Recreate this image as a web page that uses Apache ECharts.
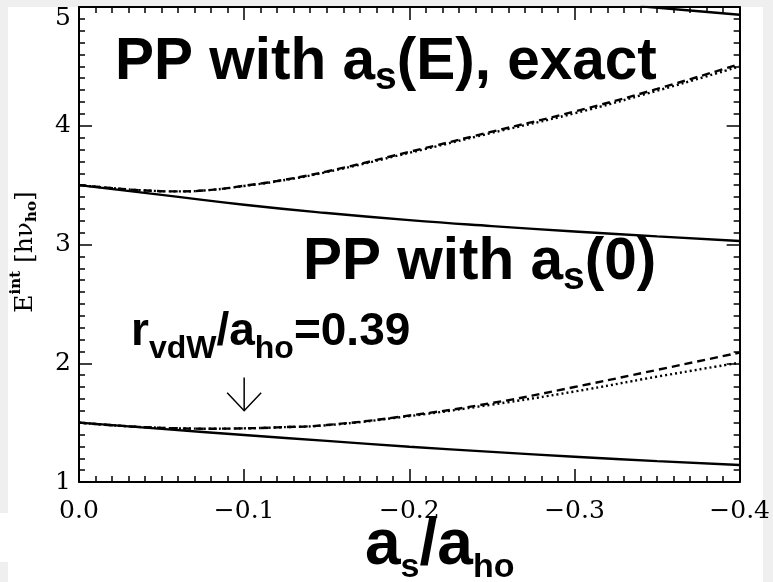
<!DOCTYPE html>
<html>
<head>
<meta charset="utf-8">
<script src="https://cdn.jsdelivr.net/npm/echarts@6/dist/echarts.min.js"></script>
<style>
  html, body { margin: 0; padding: 0; background: #fff; }
  #chart { width: 773px; height: 582px; }
</style>
</head>
<body>
<div id="chart"></div>
<script>
// x values (a_s / a_ho)
const xSolid = [0, -0.05, -0.1, -0.15, -0.2, -0.25, -0.3, -0.35, -0.4]
const xCurve = [0, -0.02, -0.04, -0.06, -0.08, -0.1, -0.12, -0.15, -0.2, -0.25, -0.3, -0.35, -0.4]
const xTop = [-0.34, -0.37, -0.4]

// PP with a_s(0) (solid)
const lowerSolid = [1.5, 1.447, 1.396, 1.346, 1.297, 1.254, 1.213, 1.176, 1.143]
const upperSolid = [3.5, 3.418, 3.335, 3.265, 3.205, 3.155, 3.11, 3.068, 3.03]
const topSolid = [5.005, 4.97, 4.935]

// PP with a_s(E) (dashed) and exact (dotted)
const lowerDashed = [1.5, 1.478, 1.462, 1.452, 1.449, 1.452, 1.46, 1.48, 1.56, 1.665, 1.8, 1.944, 2.09]
const lowerDotted = [1.5, 1.478, 1.462, 1.452, 1.449, 1.452, 1.46, 1.478, 1.555, 1.652, 1.762, 1.887, 2.005]
const upperDashed = [3.5, 3.475, 3.455, 3.447, 3.46, 3.495, 3.535, 3.615, 3.78, 3.95, 4.12, 4.31, 4.52]
const upperDotted = [3.5, 3.475, 3.455, 3.447, 3.46, 3.493, 3.532, 3.61, 3.772, 3.94, 4.105, 4.295, 4.5]

const xTicks = [0, -0.1, -0.2, -0.3, -0.4]
const yTicks = [1, 2, 3, 4, 5]

// arrow marking r_vdW/a_ho = 0.39
const arrowX = -0.1
const arrowFrom = 1.88
const arrowTo = 1.6

const pairs = (xs, ys) => xs.map((x, i) => [x, ys[i]])

const serif = "DejaVu Serif"
const sans = "Liberation Sans"

const xLabel = (v) => Math.abs(v) < 1e-9 ? "0.0" : "\u2212" + Math.abs(v).toFixed(1)
// the top label sits a bit lower in the original
const yLabel = (v) => v === yTicks[yTicks.length - 1] ? "{t|" + v + "}" : String(v)

const baseX = (pos, showLabel) => ({
  type: "value",
  position: pos,
  min: xTicks[xTicks.length - 1],
  max: xTicks[0],
  interval: 0.1,
  inverse: true,
  axisLine: { show: true, onZero: false, lineStyle: { color: "#000", width: 2 } },
  axisTick: { show: true, inside: true, length: 13, lineStyle: { color: "#000", width: 1.5 } },
  minorTick: { show: true, splitNumber: 10, length: 6, lineStyle: { color: "#000", width: 1.5 } },
  splitLine: { show: false },
  axisLabel: {
    show: showLabel, margin: 17, fontFamily: serif, fontSize: 25, color: "#000",
    formatter: xLabel
  }
})

const baseY = (pos, showLabel) => ({
  type: "value",
  position: pos,
  min: yTicks[0],
  max: yTicks[yTicks.length - 1],
  interval: 1,
  axisLine: { show: true, onZero: false, lineStyle: { color: "#000", width: 2 } },
  axisTick: { show: true, inside: true, length: 13, lineStyle: { color: "#000", width: 1.5 } },
  minorTick: { show: true, splitNumber: 10, length: 6, lineStyle: { color: "#000", width: 1.5 } },
  splitLine: { show: false },
  axisLabel: {
    show: showLabel, margin: 8, fontFamily: serif, fontSize: 25, color: "#000",
    formatter: yLabel,
    rich: { t: { fontFamily: serif, fontSize: 25, color: "#000", padding: [22, 0, 0, 0] } }
  }
})

const line = (data, type) => ({
  type: "line",
  xAxisIndex: 0,
  yAxisIndex: 0,
  data,
  smooth: true,
  symbol: "none",
  silent: true,
  lineStyle: { color: "#000", width: 2.4, type }
})

const bigRich = (main, sub, shift, lh) => ({
  m: { fontFamily: sans, fontWeight: "bold", fontSize: main, lineHeight: lh, fill: "#000" },
  s: { fontFamily: sans, fontWeight: "bold", fontSize: sub, lineHeight: lh, fill: "#000", padding: [shift * 2, 0, 0, 0] }
})

const myChart = echarts.init(document.getElementById("chart"))

myChart.setOption({
  backgroundColor: "#fff",
  animation: false,
  grid: { left: 79, right: 30, top: 7, bottom: 100, containLabel: false },
  xAxis: [baseX("bottom", true), baseX("top", false)],
  yAxis: [baseY("left", true), baseY("right", false)],
  series: [
    line(pairs(xSolid, lowerSolid), "solid"),
    line(pairs(xSolid, upperSolid), "solid"),
    line(pairs(xTop, topSolid), "solid"),
    line(pairs(xCurve, lowerDashed), [8, 5]),
    line(pairs(xCurve, lowerDotted), [2, 3]),
    line(pairs(xCurve, upperDashed), [8, 5]),
    line(pairs(xCurve, upperDotted), [2, 3])
  ]
})

const tip = myChart.convertToPixel({ seriesIndex: 0 }, [arrowX, arrowTo])
const tail = myChart.convertToPixel({ seriesIndex: 0 }, [arrowX, arrowFrom])

myChart.setOption({
  graphic: [
    // grey margins of the scanned figure
    { type: "rect", z: -10, shape: { x: 0, y: 0, width: 773, height: 7 }, style: { fill: "#efefef" } },
    { type: "rect", z: -10, shape: { x: 0, y: 0, width: 8, height: 513 }, style: { fill: "#efefef" } },
    { type: "rect", z: -10, shape: { x: 0, y: 562, width: 8, height: 20 }, style: { fill: "#efefef" } },
    { type: "rect", z: -10, shape: { x: 763, y: 0, width: 10, height: 582 }, style: { fill: "#efefef" } },
    {
      type: "text", x: 115, y: 63, z: 10,
      style: {
        text: "{m|PP with a}{s|s}{m|(E), exact}",
        rich: bigRich(58.5, 39, 15, 80), align: "left", verticalAlign: "middle"
      }
    },
    {
      type: "text", x: 303, y: 263, z: 10,
      style: {
        text: "{m|PP with a}{s|s}{m|(0)}",
        rich: bigRich(58.5, 39, 15, 80), align: "left", verticalAlign: "middle"
      }
    },
    {
      type: "text", x: 131, y: 332, z: 10,
      style: {
        text: "{m|r}{s|vdW}{m|/a}{s|ho}{m|=0.39}",
        rich: bigRich(46, 32, 17, 60), align: "left", verticalAlign: "middle"
      }
    },
    {
      type: "text", x: 365, y: 546, z: 10,
      style: {
        text: "{m|a}{s|s}{m|/a}{s|ho}",
        rich: bigRich(64, 34, 22, 90), align: "left", verticalAlign: "middle"
      }
    },
    {
      type: "text", x: 25, y: 252, rotation: Math.PI / 2, z: 10,
      style: {
        text: "{m|E}{p|int}{m| [h\u03bd}{b|ho}{m|]}",
        align: "center", verticalAlign: "middle",
        rich: {
          m: { fontFamily: serif, fontSize: 25, lineHeight: 32, fill: "#000" },
          p: { fontFamily: serif, fontSize: 15, fontWeight: "bold", lineHeight: 32, fill: "#000", padding: [0, 0, 18, 0] },
          b: { fontFamily: serif, fontSize: 15, fontWeight: "bold", lineHeight: 32, fill: "#000", padding: [14, 0, 0, 0] }
        }
      }
    },
    {
      type: "line", z: 10,
      shape: { x1: tail[0], y1: tail[1], x2: tip[0], y2: tip[1] },
      style: { stroke: "#000", lineWidth: 1.5 }
    },
    {
      type: "polyline", z: 10,
      shape: { points: [[tip[0] - 17, tip[1] - 18], tip, [tip[0] + 17, tip[1] - 18]] },
      style: { stroke: "#000", lineWidth: 1.5, fill: null }
    }
  ]
})

window.addEventListener("resize", () => {
  myChart.resize()
})
</script>
</body>
</html>
